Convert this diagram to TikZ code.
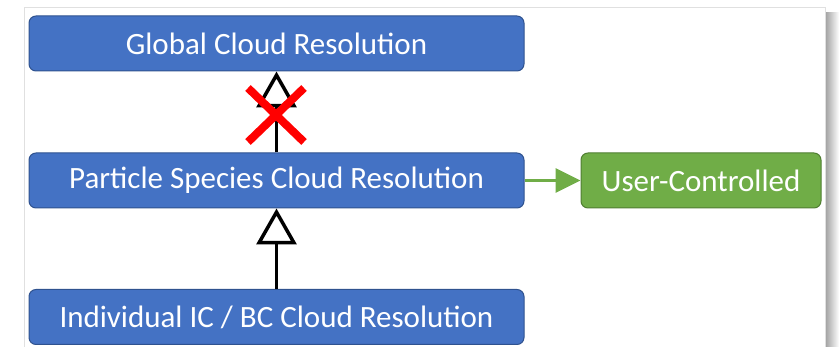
\documentclass[tikz,border=0pt]{standalone}
\usepackage{fontspec}
\setmainfont{Carlito}
\usetikzlibrary{arrows.meta,calc}
\definecolor{boxblue}{HTML}{4472C4}
\definecolor{boxblueline}{HTML}{2F528F}
\definecolor{boxgreen}{HTML}{70AD47}
\definecolor{boxgreenline}{HTML}{507E32}
\tikzset{
  bluebox/.style={draw=boxblueline, line width=1pt, fill=boxblue, rounded corners=7pt,
    minimum width=495pt, minimum height=55pt, text=white, font=\fontsize{31}{36}\selectfont, inner sep=0pt},
  greenbox/.style={draw=boxgreenline, line width=1pt, fill=boxgreen, rounded corners=7pt,
    minimum width=240pt, minimum height=55pt, text=white, font=\fontsize{31}{36}\selectfont, inner sep=0pt},
  inherit/.style={draw=black, line width=3.5pt, -{Triangle[open, width=40pt, length=36pt, line width=3.5pt]}},
  greenarrow/.style={draw=boxgreen, line width=3pt, -{Triangle[width=24pt, length=25pt]}},
  cross/.style={draw=red, line width=8pt},
}
\begin{document}
\begin{tikzpicture}[x=1pt,y=-1pt]
\useasboundingbox (0,0) rectangle (839,347);
% frame and shadow
\shade[left color=black!35, right color=white] (826,13) rectangle (839,347);
\draw[black!12, line width=1pt] (24,347) -- (24,8) -- (825,8) -- (825,347);
% nodes
\node[bluebox] (global) at (276.5,43.5) {Global Cloud Resolution};
\node[bluebox] (species) at (276.5,180.5) {Particle Species Cloud Resolution};
\node[bluebox] (indiv) at (276.5,317) {Individual IC / BC Cloud Resolution};
\node[greenbox] (user) at (701,180.5) {User-Controlled};
% connectors
\draw[inherit] (species.north) -- (global.south);
\draw[inherit] (indiv.north) -- (species.south);
\draw[greenarrow] (species.east) -- (user.west);
% red cross
\coordinate (xc) at (276,115);
\draw[cross] ($(xc)+(-28,-27)$) -- ($(xc)+(28,27)$);
\draw[cross] ($(xc)+(28,-27)$) -- ($(xc)+(-28,27)$);
\end{tikzpicture}
\end{document}
